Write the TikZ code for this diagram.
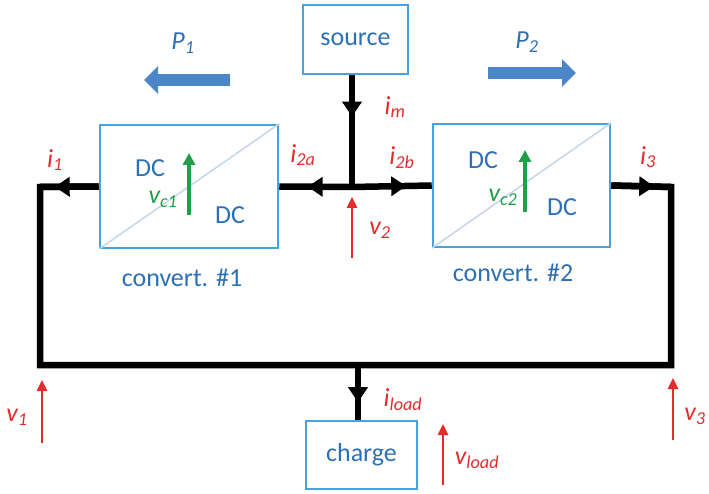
\documentclass[tikz,border=0pt]{standalone}
\usepackage{fontspec}
\setmainfont{Carlito}
\usetikzlibrary{arrows.meta,decorations.markings}
\definecolor{boxblue}{RGB}{72,162,222}
\definecolor{txtblue}{RGB}{46,112,180}
\definecolor{diagblue}{RGB}{196,214,232}
\definecolor{powblue}{RGB}{74,134,200}
\definecolor{vred}{RGB}{228,44,44}
\definecolor{vgreen}{RGB}{34,158,72}
\newcommand\lb[2]{\textit{#1\textsubscript{#2}}}
\tikzset{
  blk/.style={draw=boxblue,line width=2.5pt,inner sep=0pt,text=txtblue},
  wire/.style={line width=6.5pt},
  cur/.style={postaction={decorate},decoration={markings,
    mark=at position #1 with {\arrow{Triangle[length=15pt,width=19pt]}}}},
  volt/.style={draw=vred,line width=2.5pt,-{Triangle[length=11pt,width=10pt]}},
  vconv/.style={draw=vgreen,line width=3.5pt,-{Triangle[length=12pt,width=12pt]}},
  pow/.style={draw=powblue,line width=12pt,-{Triangle[length=14pt,width=27pt]}},
}
\begin{document}
\begin{tikzpicture}[x=1pt,y=-1pt,font=\fontsize{26}{31}\selectfont]
\useasboundingbox (0,0) rectangle (709,494);
% boxes
\node[blk,minimum width=105pt,minimum height=69pt] (src) at (355.5,39.5) {source};
\node[blk,minimum width=178pt,minimum height=123pt] (c1) at (189,186.5) {};
\node[blk,minimum width=177pt,minimum height=123pt] (c2) at (521.5,185.5) {};
\node[blk,minimum width=111pt,minimum height=68pt] (chg) at (361.5,455) {charge};
\draw[diagblue,line width=1.5pt] (c1.south west) -- (c1.north east)
  (c2.south west) -- (c2.north east);
\node[text=txtblue,inner sep=1pt] (dc1a) at (150,168) {DC};
\node[text=txtblue] (dc1b) at (230,215) {DC};
\node[text=txtblue,inner sep=1pt] (dc2a) at (483,160) {DC};
\node[text=txtblue] (dc2b) at (562,207) {DC};
\node[text=txtblue] (n1) at (182,278) {convert. \#1};
\node[text=txtblue] (n2) at (513,273) {convert. \#2};
% wiring
\coordinate (jn) at (352,187);
\coordinate (jb) at (358,365);
\coordinate (tl) at (40,187); \coordinate (bl) at (40,365);
\coordinate (tr) at (671,187); \coordinate (br) at (671,365);
\draw[wire] (c1.west) -- (tl) -- (bl) -- (br) -- (tr) -- (c2.east);
\draw[wire,cur=0.75] (c1.west) -- (tl);
\draw[wire,cur=0.72] (c2.east) -- (tr);
\draw[wire,cur=0.61] (jn) -- (c1.east);
\draw[wire,cur=0.68] (jn) -- (c2.west);
\draw[wire,cur=0.37] (src.south -| jn) -- (jn);
\draw[wire,cur=0.68] (jb) -- (chg.north -| jb);
% currents
\node[text=vred] (i1) at (55,160) {\lb{i}{1}};
\node[text=vred] (i2a) at (303,155) {\lb{i}{2a}};
\node[text=vred] (i2b) at (402,158) {\lb{i}{2b}};
\node[text=vred] (i3) at (648,157) {\lb{i}{3}};
\node[text=vred] (im) at (395,107) {\lb{i}{m}};
\node[text=vred] (il) at (403,400) {\lb{i}{load}};
% voltages
\draw[volt] (42,443) -- (42,380);
\node[text=vred] (v1) at (17,417) {\lb{v}{1}};
\draw[volt] (352,258) -- (352,197);
\node[text=vred] (v2) at (380,230) {\lb{v}{2}};
\draw[volt] (673,440) -- (673,378);
\node[text=vred] (v3) at (695,416) {\lb{v}{3}};
\draw[volt] (443,485) -- (443,424);
\node[text=vred] (vl) at (477,460) {\lb{v}{load}};
\draw[vconv] (189,215) -- (189,153);
\node[text=vgreen,inner sep=1pt] (vc1) at (163,199) {\lb{v}{c1}};
\draw[vconv] (525,212) -- (525,150);
\node[text=vgreen,inner sep=1pt] (vc2) at (503,197) {\lb{v}{c2}};
% power flow
\draw[pow] (230,80) -- (144,80);
\node[text=txtblue] (p1) at (183,43) {\lb{P}{1}};
\draw[pow] (488,73) -- (576,73);
\node[text=txtblue] (p2) at (527,42) {\lb{P}{2}};
\end{tikzpicture}
\end{document}
